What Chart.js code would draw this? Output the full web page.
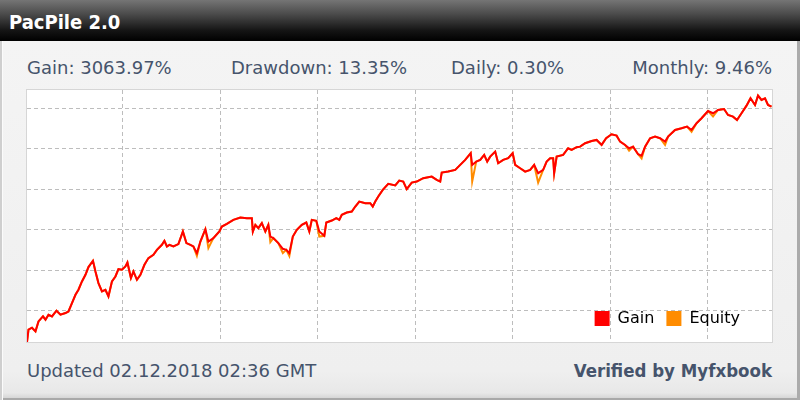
<!DOCTYPE html>
<html>
<head>
<meta charset="utf-8">
<script src="https://cdn.jsdelivr.net/npm/chart.js@4.4.1/dist/chart.umd.min.js"></script>
<style>
  html, body { margin: 0; padding: 0; }
  body { width: 800px; height: 400px; overflow: hidden; position: relative; font-family: 'DejaVu Sans', sans-serif; }
  #header {
    position: absolute; left: 0; top: 0; width: 800px; height: 41px;
    background: linear-gradient(to bottom, #757575 0%, #4a4a4a 35%, #141414 75%, #000 100%);
  }
  #title {
    position: absolute; left: 9px; top: 10px; line-height: 24px;
    font-family: 'DejaVu Sans Condensed', 'DejaVu Sans', sans-serif; font-stretch: condensed;
    font-weight: bold; font-size: 20px; color: #fff;
  }
  #panel {
    position: absolute; left: 0; top: 41px; width: 800px; height: 359px;
    background: linear-gradient(to bottom, #f4f4f4 0px, #efefef 330px, #e8e8e8 352px, #cfcfcf 359px);
    box-shadow: inset 2px 0 #cfcfcf, inset 3px 0 #fbfbfb, inset -3px 0 #ababab, inset 0 -2px #a9a9a9;
  }
  .stat, .foot { position: absolute; line-height: 20px; font-size: 18px; color: #46546c; white-space: nowrap; }
  .stat { top: 58px; }
  #verified {
    font-family: 'DejaVu Sans Condensed', 'DejaVu Sans', sans-serif; font-stretch: condensed;
    font-weight: bold; font-size: 18.5px; right: 28px; top: 361px;
  }
  #plot {
    position: absolute; left: 26px; top: 89px; width: 745px; height: 252px;
    border: 1px solid #d6d6d6; background: #fff;
  }
</style>
</head>
<body>
<div id="header"><div id="title">PacPile 2.0</div></div>
<div id="panel"></div>
<div class="stat" style="left:27px">Gain: 3063.97%</div>
<div class="stat" style="left:231px">Drawdown: 13.35%</div>
<div class="stat" style="left:451px">Daily: 0.30%</div>
<div class="stat" style="right:28px">Monthly: 9.46%</div>
<div id="plot"><canvas id="chart"></canvas></div>
<div class="foot" style="left:27px; top:361px">Updated 02.12.2018 02:36 GMT</div>
<div class="foot" id="verified">Verified by Myfxbook</div>

<script>
// days since the account started
const days = [
  0, 3, 10, 17, 23, 32, 37, 43, 50, 59,
  67, 77, 83, 90, 97, 103, 110, 117, 123, 132,
  137, 143, 150, 157, 163, 170, 177, 183, 190, 197,
  201, 208, 213, 220, 227, 235, 243, 253, 260, 270,
  275, 280, 285, 293, 303, 312, 319, 327, 333, 340,
  347, 357, 363, 373, 385, 390, 400, 413, 427, 440,
  450, 452, 457, 463, 470, 477, 483, 487, 493, 503,
  512, 519, 525, 532, 540, 550, 559, 565, 570, 579,
  585, 595, 599, 610, 619, 625, 630, 640, 650, 657,
  665, 677, 687, 692, 697, 703, 712, 723, 737, 745,
  753, 760, 770, 780, 793, 810, 820, 827, 830, 843,
  857, 867, 877, 888, 891, 899, 907, 915, 921, 927,
  937, 943, 953, 963, 972, 977, 987, 997, 1007, 1015,
  1023, 1033, 1040, 1047, 1053, 1055, 1060, 1073, 1083, 1090,
  1100, 1107, 1117, 1130, 1140, 1150, 1159, 1170, 1180, 1187,
  1197, 1205, 1213, 1223, 1230, 1237, 1247, 1257, 1267, 1277,
  1283, 1297, 1310, 1321, 1330, 1340, 1350, 1363, 1373, 1383,
  1395, 1403, 1413, 1421, 1430, 1440, 1448, 1457, 1463, 1470,
  1477, 1483, 1490
]

// gain in %
const gain = [
  0, 160, 186, 138, 268, 333, 290, 355, 333, 407,
  355, 377, 398, 507, 615, 680, 788, 875, 975, 1057,
  918, 767, 658, 680, 593, 788, 853, 949, 940, 983,
  1035, 832, 918, 810, 875, 1005, 1092, 1135, 1200, 1265,
  1317, 1243, 1265, 1243, 1274, 1438, 1287, 1265, 1243, 1157,
  1308, 1469, 1308, 1352, 1438, 1503, 1538, 1590, 1620, 1612,
  1612, 1438, 1525, 1482, 1547, 1438, 1525, 1373, 1352, 1287,
  1213, 1200, 1157, 1373, 1460, 1525, 1555, 1438, 1590, 1577,
  1438, 1382, 1555, 1581, 1612, 1590, 1655, 1685, 1698, 1763,
  1828, 1807, 1807, 1763, 1828, 1893, 1980, 2058, 2038, 2101,
  2088, 1989, 2075, 2088, 2132, 2153, 2110, 2088, 2205, 2218,
  2240, 2305, 2370, 2457, 2305, 2348, 2370, 2435, 2348, 2413,
  2478, 2327, 2370, 2392, 2457, 2305, 2262, 2218, 2240, 2305,
  2197, 2240, 2348, 2392, 2392, 2197, 2413, 2435, 2522, 2500,
  2535, 2543, 2587, 2617, 2630, 2565, 2652, 2704, 2686, 2608,
  2565, 2522, 2543, 2444, 2426, 2543, 2652, 2673, 2652, 2608,
  2673, 2760, 2782, 2803, 2760, 2847, 2912, 3007, 2977, 3020,
  3033, 2955, 2933, 2890, 2977, 3076, 3172, 3085, 3206, 3150,
  3172, 3085, 3064
]

// equity in %, dips below the gain line on open trades
const equity = [
  0, 160, 186, 138, 268, 333, 290, 355, 333, 407,
  355, 377, 398, 507, 615, 680, 788, 875, 975, 1057,
  918, 767, 658, 680, 593, 788, 853, 949, 940, 983,
  1035, 832, 918, 810, 875, 1005, 1092, 1135, 1200, 1265,
  1317, 1243, 1265, 1243, 1274, 1438, 1287, 1265, 1243, 1120,
  1308, 1469, 1222, 1352, 1438, 1503, 1538, 1590, 1620, 1612,
  1612, 1438, 1525, 1482, 1547, 1438, 1525, 1300, 1352, 1287,
  1157, 1200, 1120, 1373, 1460, 1525, 1555, 1438, 1590, 1577,
  1373, 1382, 1555, 1581, 1612, 1590, 1655, 1685, 1698, 1763,
  1828, 1807, 1807, 1763, 1828, 1893, 1980, 2058, 2038, 2101,
  2088, 1989, 2075, 2088, 2132, 2153, 2110, 2088, 2205, 2218,
  2240, 2305, 2370, 2457, 2088, 2348, 2370, 2435, 2348, 2413,
  2478, 2327, 2370, 2392, 2457, 2305, 2262, 2218, 2240, 2305,
  2075, 2240, 2348, 2392, 2392, 2197, 2413, 2435, 2522, 2500,
  2535, 2543, 2587, 2617, 2630, 2565, 2652, 2704, 2686, 2608,
  2565, 2490, 2543, 2444, 2390, 2543, 2652, 2673, 2652, 2565,
  2673, 2760, 2782, 2803, 2735, 2847, 2912, 3007, 2935, 3020,
  3033, 2955, 2933, 2890, 2977, 3076, 3172, 3085, 3206, 3150,
  3172, 3085, 3064
]

const xGrid = [192, 387, 582, 777, 972, 1167, 1362]
const yGrid = [410, 937, 1464, 1991, 2518, 3045]

const seriesNames = ['Gain', 'Equity']
const seriesColors = ['#ff0000', '#ff8c00']

window.addEventListener('DOMContentLoaded', init)

function init() {
    createChart()
}

function toPoints(values) {
    return values.map((v, i) => ({ x: days[i], y: v }))
}

// little legend sitting in the bottom right corner of the plot
const cornerLegend = {
    id: 'cornerLegend',
    afterDatasetsDraw(chart) {
        const ctx = chart.ctx
        const area = chart.chartArea
        ctx.save()
        ctx.font = '16px "DejaVu Sans"'
        ctx.textBaseline = 'middle'
        const widths = seriesNames.map(name => ctx.measureText(name).width)
        let total = 0
        widths.forEach((w, i) => { total += 15 + 8 + w + (i < widths.length - 1 ? 12 : 0) })
        let x = area.right - 32 - total
        const y = area.bottom - 24
        seriesNames.forEach((name, i) => {
            ctx.fillStyle = seriesColors[i]
            ctx.fillRect(x, y - 7, 15, 15)
            x += 15 + 8
            ctx.fillStyle = '#000'
            ctx.fillText(name, x, y + 1)
            x += widths[i] + 12
        })
        ctx.restore()
    }
}

function createChart() {
    const data = {
        datasets: [{
            label: seriesNames[0],
            data: toPoints(gain),
            borderColor: seriesColors[0],
            borderWidth: 2,
        }, {
            label: seriesNames[1],
            data: toPoints(equity),
            borderColor: seriesColors[1],
            borderWidth: 2,
        }]
    }

    const gridStyle = {
        color: '#bdbdbd',
        lineWidth: 1,
        drawTicks: false,
    }

    const config = {
        type: 'line',
        data,
        options: {
            responsive: true,
            maintainAspectRatio: false,
            animation: false,
            layout: { padding: 0 },
            elements: {
                point: { radius: 0 },
                line: { tension: 0 }
            },
            scales: {
                x: {
                    type: 'linear',
                    min: 0,
                    max: 1491,
                    ticks: { display: false },
                    grid: gridStyle,
                    border: { display: false, dash: [4, 3] },
                    afterBuildTicks: axis => { axis.ticks = xGrid.map(v => ({ value: v })) }
                },
                y: {
                    type: 'linear',
                    min: 0,
                    max: 3280,
                    ticks: { display: false },
                    grid: gridStyle,
                    border: { display: false, dash: [4, 3] },
                    afterBuildTicks: axis => { axis.ticks = yGrid.map(v => ({ value: v })) }
                }
            },
            plugins: {
                legend: { display: false },
                tooltip: { enabled: false }
            }
        },
        plugins: [cornerLegend]
    }

    new Chart(document.getElementById('chart'), config)
}
</script>
</body>
</html>
